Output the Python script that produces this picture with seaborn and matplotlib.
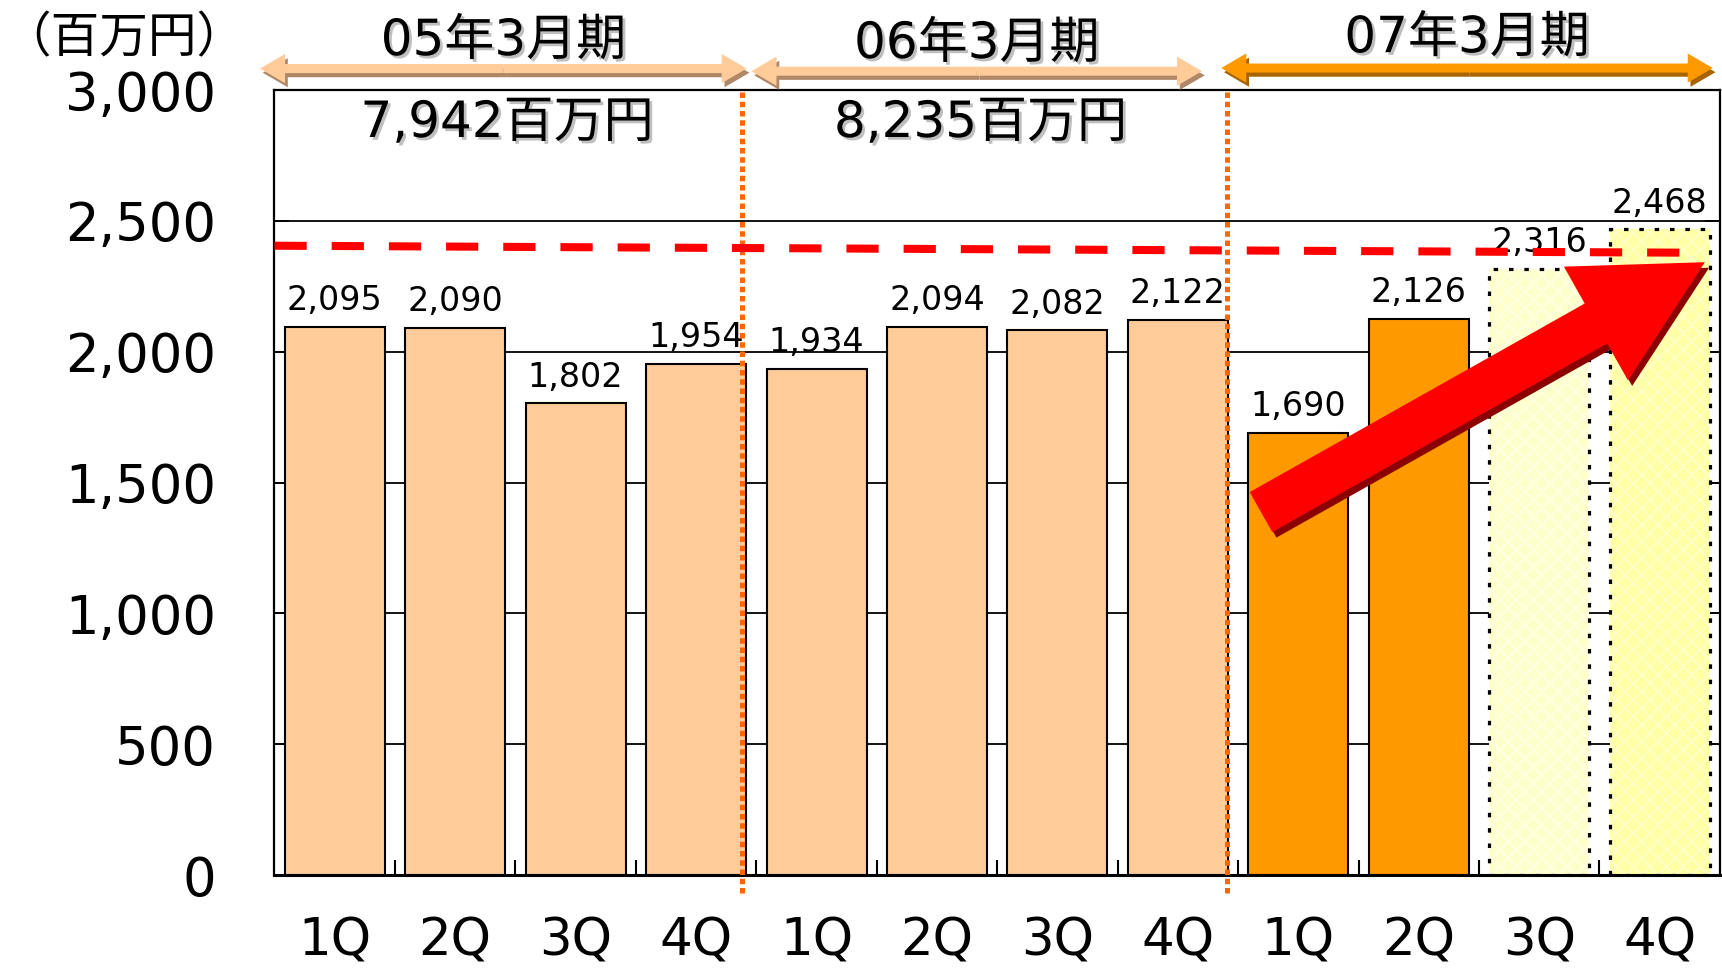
import numpy as np
import pandas as pd
import matplotlib
matplotlib.use("Agg")
import matplotlib.pyplot as plt
import matplotlib.patheffects as pe
from matplotlib.patches import FancyArrowPatch, ArrowStyle
import seaborn as sns

# --- Data (百万円)
periods = ['05年3月期', '06年3月期', '07年3月期']
quarters = ['1Q', '2Q', '3Q', '4Q']
sales = [2095, 2090, 1802, 1954,
         1934, 2094, 2082, 2122,
         1690, 2126, 2316, 2468]
annual_totals = ['7,942百万円', '8,235百万円']
forecast_slots = [10, 11]          # 07年3月期 3Q/4Q are forecasts
y_ticks = [0, 500, 1000, 1500, 2000, 2500, 3000]
y_tick_labels = ['0', '500', '1,000', '1,500', '2,000', '2,500', '3,000']

# target line (red dashed) and trend arrow
target_x = [-0.5, 11.36]
target_y = [2405, 2378]
trend_from = (7.69, 1387)
trend_to = (11.375, 2342)

# period spans (arrows above the plot) and period dividers
period_spans = [(-0.62, 3.42), (3.46, 7.20), (7.36, 11.44)]
period_dividers = [3.38, 7.41]

PEACH = '#FFCC99'
ORANGE = '#FF9900'


def main():
    sns.set_theme(style='white')
    plt.rcParams['font.family'] = ['DejaVu Sans', 'Noto Sans CJK JP']
    plt.rcParams['hatch.linewidth'] = 1.4
    for k in ('text.color', 'axes.labelcolor', 'xtick.color', 'ytick.color'):
        plt.rcParams[k] = 'black'

    slots = [f'{p[:2]}-{q}' for p in periods for q in quarters]
    df = pd.DataFrame({'slot': slots, 'sales': sales})
    colors = [PEACH] * 8 + [ORANGE] * 2 + ['#FFFFCC', '#FFFFA6']

    fig = plt.figure(figsize=(17.22, 9.69), dpi=100)
    ax = fig.add_axes([0.1594, 0.0970, 0.8394, 0.8101])

    sns.barplot(data=df, x='slot', y='sales', hue='slot', palette=colors,
                legend=False, width=0.83, saturation=1,
                edgecolor='black', linewidth=1.5, ax=ax, zorder=2)

    # forecast bars: faint cross pattern + dotted outline
    bars = [p for c in ax.containers for p in c]
    hatch_cols = {10: '#FFFFE2', 11: '#FFFFC6'}
    for i in forecast_slots:
        bars[i].set_hatch('xx')
        bars[i].set_edgecolor(hatch_cols[i])
        bars[i].set_linewidth(0)
    ax.bar(forecast_slots, [sales[i] for i in forecast_slots], width=0.83,
           fill=False, edgecolor='black', linewidth=2.3,
           linestyle=(0, (1.4, 3.4)), zorder=3)

    # value labels
    for i, v in enumerate(sales):
        ax.annotate(f'{v:,}', (i, v), xytext=(0, 12), textcoords='offset points',
                    ha='center', va='baseline', fontsize=24, zorder=3)

    # axes look
    ax.set_xlim(-0.5, 11.5)
    ax.set_ylim(0, 3000)
    ax.set_yticks(y_ticks)
    ax.set_yticklabels(y_tick_labels)
    ax.set_xticks(range(len(slots)))
    ax.set_xticklabels(quarters * 3)
    ax.set_xlabel('')
    ax.set_ylabel('')
    ax.yaxis.grid(True, color='black', linewidth=1.3)
    ax.set_axisbelow(True)
    for s in ax.spines.values():
        s.set_visible(True)
        s.set_color('black')
        s.set_linewidth(1.6)
    ax.spines['bottom'].set_linewidth(2.2)
    ax.tick_params(axis='x', which='major', length=0, pad=30, labelsize=37)
    ax.tick_params(axis='y', which='major', direction='in', length=11,
                   width=1.3, left=True, right=True, pad=42, labelsize=38)
    ax.set_xticks(np.arange(0.5, 11, 1), minor=True)
    ax.tick_params(axis='x', which='minor', direction='in', length=11,
                   width=1.5, bottom=True)

    # target line
    ax.plot(target_x, target_y, color='#FF0000', linewidth=5.8,
            linestyle=(0, (4, 3.1)), dash_capstyle='butt', zorder=5)

    # period dividers
    for xd in period_dividers:
        ax.plot([xd, xd], [-69, 3000], color='#FF6600', linewidth=3.6,
                linestyle=(0, (1.1, 0.75)), dash_capstyle='butt',
                zorder=4, clip_on=False)

    # period arrows + labels
    arrow_cols = [(PEACH, '#B08868'), (PEACH, '#B08868'), (ORANGE, '#A86400')]
    arrow_y = [3082, 3072, 3084]
    label_y = [3187, 3176, 3198]
    shadow_txt = [pe.withSimplePatchShadow(offset=(2, -2), shadow_rgbFace='gray', alpha=0.5)]
    for (x0, x1), (fc, sc), ay, ly, name in zip(period_spans, arrow_cols,
                                                 arrow_y, label_y, periods):
        mid = (x0 + x1) / 2
        for end in (x0, x1):
            arr = FancyArrowPatch((mid, ay), (end, ay),
                                  arrowstyle=ArrowStyle.Simple(head_length=18, head_width=21, tail_width=6.5),
                                  mutation_scale=1, shrinkA=0, shrinkB=0,
                                  facecolor=fc, edgecolor='none', clip_on=False, zorder=6,
                                  path_effects=[pe.SimplePatchShadow(offset=(2, -3), shadow_rgbFace=sc, alpha=1),
                                                pe.Normal()])
            ax.add_patch(arr)
        ax.text(mid, ly, name, ha='center', va='center', fontsize=36,
                clip_on=False, path_effects=shadow_txt, zorder=6)

    # annual totals
    for (x0, x1), txt in zip(period_spans[:2], annual_totals):
        ax.text((x0 + x1) / 2 + 0.03, 2874, txt, ha='center', va='center',
                fontsize=36, path_effects=shadow_txt, zorder=6)

    # unit label
    fig.text(2 / 1722, 1 - 39 / 969, '（百万円）', ha='left', va='center',
             fontsize=35, family=['Noto Sans CJK JP', 'DejaVu Sans'])

    # trend arrow
    trend = FancyArrowPatch(trend_from, trend_to,
                            arrowstyle=ArrowStyle.Simple(head_length=90, head_width=94, tail_width=33),
                            mutation_scale=1, shrinkA=0, shrinkB=0,
                            facecolor='#FF0000', edgecolor='none', zorder=7,
                            path_effects=[pe.SimplePatchShadow(offset=(3, -4), shadow_rgbFace='#8B0000', alpha=1),
                                          pe.Normal()])
    ax.add_patch(trend)

    fig.savefig('out.png', dpi=100)
    plt.close(fig)


if __name__ == '__main__':
    main()
